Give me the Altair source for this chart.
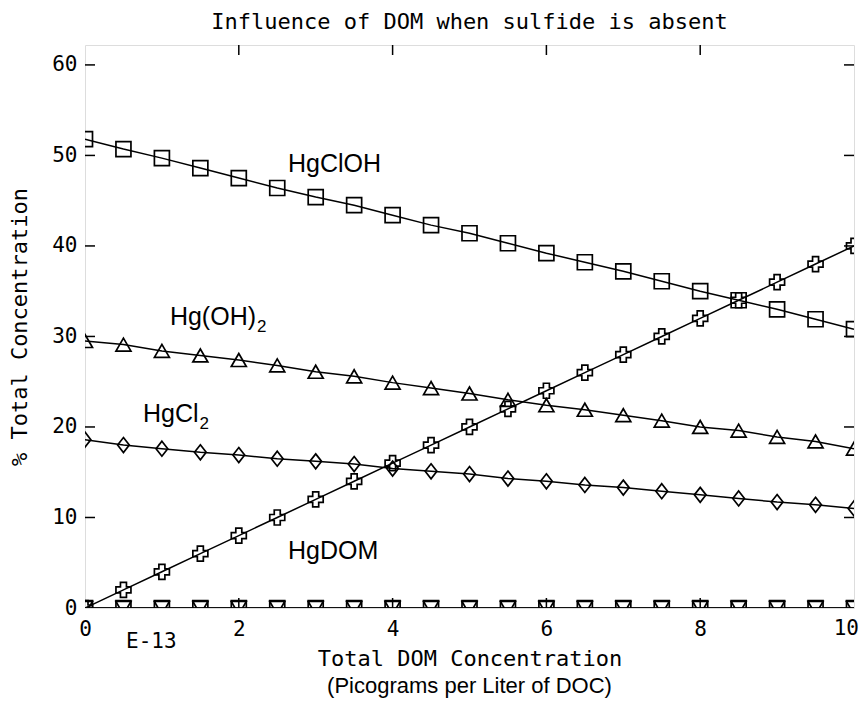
import altair as alt
import pandas as pd

# ---------------- data ----------------
x_vals = [0, 0.5, 1, 1.5, 2, 2.5, 3, 3.5, 4, 4.5, 5, 5.5, 6, 6.5, 7, 7.5, 8, 8.5, 9, 9.5, 10]
hgcloh = [51.8, 50.7, 49.7, 48.6, 47.5, 46.4, 45.4, 44.5, 43.4, 42.3, 41.4,
          40.3, 39.2, 38.2, 37.2, 36.1, 35.0, 34.0, 33.0, 31.9, 30.8]
hgoh2 = [29.5, 29.1, 28.4, 27.9, 27.4, 26.8, 26.1, 25.6, 24.9, 24.3, 23.7,
         23.0, 22.4, 21.9, 21.3, 20.7, 20.0, 19.6, 18.9, 18.4, 17.6]
hgcl2 = [18.6, 18.0, 17.6, 17.2, 16.9, 16.5, 16.2, 15.9, 15.4, 15.1, 14.8,
         14.3, 14.0, 13.6, 13.3, 12.9, 12.5, 12.1, 11.7, 11.4, 11.0]
hgdom = [0, 2, 4, 6, 8, 10, 12, 14, 16, 18, 20,
         22, 24, 26, 28, 30, 32, 34, 36, 38, 40]
minor_a = [0] * 21
minor_b = [0] * 21

series_names = ["HgClOH", "Hg(OH)2", "HgCl2", "HgDOM", "minorA", "minorB"]
series_vals = [hgcloh, hgoh2, hgcl2, hgdom, minor_a, minor_b]
series_shapes = ["square", "triangle-up", "M0,-1L0.78,0L0,1L-0.78,0Z", "cross", "square", "triangle-down"]
series_sizes = [225, 225, 225, 256, 225, 225]

x_ticks = [0, 2, 4, 6, 8, 10]
y_ticks = [0, 10, 20, 30, 40, 50, 60]
inner_x_ticks = [2, 4, 6, 8]
inner_y_ticks = [10, 20, 30, 40, 50, 60]

label_main = ["HgClOH", "Hg(OH)", "HgCl", "HgDOM"]
label_x = [2.64, 2.224, 1.476, 2.64]
label_y = [48.2, 31.3, 20.55, 5.4]
label_align = ["left", "right", "right", "left"]
sub_text = ["2", "2"]
sub_x = [2.224, 1.476]
sub_y = [31.3, 20.55]

W, H = 769, 563
MONO = "DejaVu Sans Mono"
SANS = "Liberation Sans"

rows = []
for name, vals in zip(series_names, series_vals):
    for xv, yv in zip(x_vals, vals):
        rows.append({"x": xv, "y": yv, "series": name})
df = pd.DataFrame(rows)

xs = alt.Scale(domain=[0, 10], nice=False, zero=False)
ys = alt.Scale(domain=[0, 62.2], nice=False, zero=False)

xenc = alt.X("x:Q", scale=xs, axis=alt.Axis(
    values=x_ticks[:-1], format="d", ticks=False, domain=False, grid=False, labelFont=MONO, labelFontSize=21,
    labelColor="black", labelPadding=10, labelFlush=False,
    title="Total DOM Concentration", titleFont=MONO, titleFontSize=22, titleFontWeight="normal",
    titleColor="black", titlePadding=9))
yenc = alt.Y("y:Q", scale=ys, axis=alt.Axis(
    values=y_ticks, format="d", ticks=False, domain=False, grid=False, labelFont=MONO, labelFontSize=21,
    labelColor="black", labelPadding=8, labelFlush=False,
    title="% Total Concentration", titleFont=MONO, titleFontSize=22, titleFontWeight="normal",
    titleColor="black", titlePadding=20))

base = alt.Chart(df)

lines = base.mark_line(color="black", strokeWidth=1.5, clip=True).encode(
    x=xenc, y=yenc, detail="series:N")

points = base.mark_point(filled=False, color="black", strokeWidth=1.7, opacity=1, clip=True).encode(
    x=alt.X("x:Q", scale=xs),
    y=alt.Y("y:Q", scale=ys),
    shape=alt.Shape("series:N", scale=alt.Scale(domain=series_names, range=series_shapes), legend=None),
    size=alt.Size("series:N", scale=alt.Scale(domain=series_names, range=series_sizes), legend=None),
)

# last x tick label (kept inside the page)
last_lab = alt.Chart(pd.DataFrame({"v": x_ticks[-1:], "t": [str(x_ticks[-1])]})).mark_text(
    font=MONO, fontSize=21, align="right", baseline="top", dx=5, dy=10, color="black").encode(
    x=alt.X("v:Q", scale=xs), y=alt.value(H), text="t:N")

# inward ticks
ydf = pd.DataFrame({"v": inner_y_ticks})
xdf = pd.DataFrame({"v": inner_x_ticks})
tick_left = alt.Chart(ydf).mark_rule(color="black", strokeWidth=1.5).encode(
    y=alt.Y("v:Q", scale=ys), x=alt.value(0), x2=alt.value(10))
tick_right = alt.Chart(ydf).mark_rule(color="black", strokeWidth=1.5).encode(
    y=alt.Y("v:Q", scale=ys), x=alt.value(W - 10), x2=alt.value(W))
tick_top = alt.Chart(xdf).mark_rule(color="black", strokeWidth=1.5).encode(
    x=alt.X("v:Q", scale=xs), y=alt.value(0), y2=alt.value(10))
tick_bottom = alt.Chart(xdf).mark_rule(color="black", strokeWidth=1.5).encode(
    x=alt.X("v:Q", scale=xs), y=alt.value(H - 10), y2=alt.value(H))

# species labels
ldf = pd.DataFrame({"t": label_main, "x": label_x, "y": label_y, "a": label_align})
lab_left = alt.Chart(ldf[ldf.a == "left"]).mark_text(
    font=SANS, fontSize=25, align="left", baseline="alphabetic", color="black").encode(
    x=alt.X("x:Q", scale=xs), y=alt.Y("y:Q", scale=ys), text="t:N")
lab_right = alt.Chart(ldf[ldf.a == "right"]).mark_text(
    font=SANS, fontSize=25, align="right", baseline="alphabetic", color="black").encode(
    x=alt.X("x:Q", scale=xs), y=alt.Y("y:Q", scale=ys), text="t:N")
sdf = pd.DataFrame({"t": sub_text, "x": sub_x, "y": sub_y})
lab_sub = alt.Chart(sdf).mark_text(
    font=SANS, fontSize=17, align="left", baseline="alphabetic", dx=1, dy=7, color="black").encode(
    x=alt.X("x:Q", scale=xs), y=alt.Y("y:Q", scale=ys), text="t:N")

# extra annotation texts below the axis
e13 = alt.Chart(pd.DataFrame({"t": ["E-13"]})).mark_text(
    font=MONO, fontSize=21, align="left", baseline="middle", color="black").encode(
    x=alt.value(41), y=alt.value(597), text="t:N")
pico = alt.Chart(pd.DataFrame({"t": ["(Picograms per Liter of DOC)"]})).mark_text(
    font=SANS, fontSize=22, align="center", baseline="middle", color="black").encode(
    x=alt.value(W / 2), y=alt.value(641), text="t:N")

chart = alt.layer(
    lines, points, last_lab, tick_left, tick_right, tick_top, tick_bottom,
    lab_left, lab_right, lab_sub, e13, pico
).properties(
    width=W, height=H,
    title=alt.Title("Influence of DOM when sulfide is absent", font=MONO, fontSize=22,
                    fontWeight="normal", color="black", anchor="middle", offset=10),
    autosize=alt.AutoSizeParams(type="none"),
    padding={"left": 77, "top": 37, "right": 5, "bottom": 91},
).configure_view(stroke="black", strokeWidth=1.6).configure(background="white")

chart.save("out.html", embed_options={"renderer": "svg", "actions": False})
